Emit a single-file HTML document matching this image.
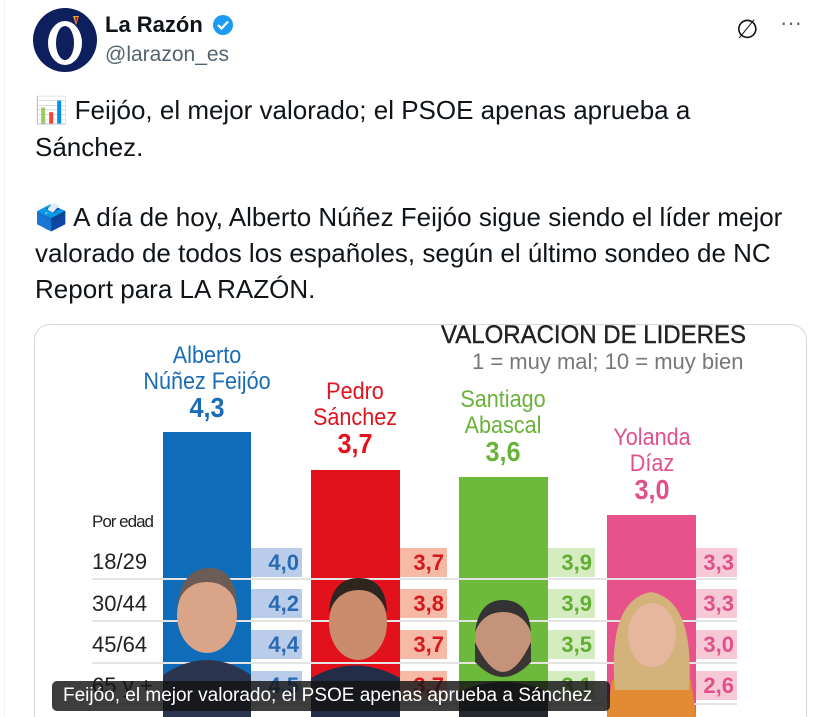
<!DOCTYPE html>
<html><head><meta charset="utf-8"><style>
*{margin:0;padding:0;box-sizing:border-box}
html,body{width:820px;height:717px;overflow:hidden}
body{background:#fff;font-family:"Liberation Sans",sans-serif;position:relative;color:#0f1419}
.a{position:absolute;white-space:nowrap}
.t{font-size:26px;line-height:36px;left:35px}
.c{position:absolute;text-align:center;font-family:"Liberation Sans",sans-serif;font-size:24px;line-height:26px;transform:scaleX(0.9)}
.sb{position:absolute;font-size:22px;font-weight:bold;text-align:right;padding-right:3px;line-height:29px;height:29px}
.row{position:absolute;left:92px;font-size:22px;color:#222}
.ln{position:absolute;left:92px;width:645px;height:2px;background:#e4e4e4}
</style></head><body>
<div class="a" style="left:4px;top:0;width:1px;height:717px;background:#eff3f4"></div>
<svg class="a" style="left:33px;top:8px" width="64" height="64"><circle cx="32" cy="32" r="32" fill="#0d1f5c"/><ellipse cx="32" cy="35" rx="17" ry="22" fill="#fff"/><ellipse cx="32" cy="35" rx="9" ry="17" fill="#0d1f5c"/><path d="M40 8 l6 0 -3 9z" fill="#e8b020"/><path d="M42 9 l3 0 -2 6z" fill="#c8102e"/></svg>
<div class="a" style="left:105px;top:12px;font-size:22px;font-weight:bold">La Razón</div>
<svg class="a" style="left:212px;top:14px" width="22" height="22"><circle cx="11" cy="11" r="10" fill="#1d9bf0"/><path d="M6 11 l3.5 3.5 6.5-7" stroke="#fff" stroke-width="2.2" fill="none"/></svg>
<div class="a" style="left:105px;top:43px;font-size:21px;color:#536471">@larazon_es</div>
<div class="a" style="left:736px;top:14px;font-size:26px;color:#0f1419">∅</div>
<div class="a" style="left:780px;top:10px;font-size:22px;color:#536471">···</div>
<div class="a t" style="top:92px">📊 Feijóo, el mejor valorado; el PSOE apenas aprueba a</div>
<div class="a t" style="top:129px">Sánchez.</div>
<div class="a t" style="top:199px">🗳️ A día de hoy, Alberto Núñez Feijóo sigue siendo el líder mejor</div>
<div class="a t" style="top:235px">valorado de todos los españoles, según el último sondeo de NC</div>
<div class="a t" style="top:271px">Report para LA RAZÓN.</div>
<div class="a" style="left:34px;top:324px;width:773px;height:393px;border:1px solid #cfd9de;border-bottom:none;border-radius:16px 16px 0 0;overflow:hidden">
<div style="position:absolute;left:-35px;top:-325px;width:820px;height:717px;overflow:hidden">
<div class="a" style="left:441px;top:321px;font-size:25px;color:#222;transform:scaleX(0.96);transform-origin:left;-webkit-text-stroke:0.4px #222">VALORACION DE LIDERES</div>
<div class="a" style="left:472px;top:349px;font-size:22px;color:#777">1 = muy mal; 10 = muy bien</div>
<div class="c" style="left:117px;width:180px;top:343px;color:#1a6db5">Alberto<br>Núñez Feijóo<br><b style="font-size:28px">4,3</b></div>
<div class="c" style="left:265px;width:180px;top:379px;color:#e0141e">Pedro<br>Sánchez<br><b style="font-size:28px">3,7</b></div>
<div class="c" style="left:413px;width:180px;top:387px;color:#6ab23a">Santiago<br>Abascal<br><b style="font-size:28px">3,6</b></div>
<div class="c" style="left:562px;width:180px;top:425px;color:#e0508a">Yolanda<br>Díaz<br><b style="font-size:28px">3,0</b></div>
<div class="a" style="left:163px;top:432px;width:88px;height:285px;background:#0e6cb8"></div>
<div class="a" style="left:311px;top:470px;width:89px;height:247px;background:#e3111c"></div>
<div class="a" style="left:459px;top:477px;width:89px;height:240px;background:#6db93c"></div>
<div class="a" style="left:607px;top:515px;width:89px;height:202px;background:#e8528a"></div>
<div class="row" style="top:512px;font-size:17px;letter-spacing:-1px">Por edad</div>
<div class="row" style="top:549px">18/29</div><div class="row" style="top:591px">30/44</div><div class="row" style="top:632px">45/64</div><div class="row" style="top:673px">65 y +</div>
<div class="ln" style="top:578px"></div><div class="ln" style="top:620px"></div><div class="ln" style="top:662px"></div><div class="ln" style="top:703px"></div>
<div class="sb" style="left:251px;top:548px;width:51px;background:#b9cdea;color:#2a6ab3">4,0</div>
<div class="sb" style="left:251px;top:589px;width:51px;background:#b9cdea;color:#2a6ab3">4,2</div>
<div class="sb" style="left:251px;top:630px;width:51px;background:#b9cdea;color:#2a6ab3">4,4</div>
<div class="sb" style="left:251px;top:671px;width:51px;background:#b9cdea;color:#2a6ab3">4,5</div>
<div class="sb" style="left:400px;top:548px;width:47px;background:#f6b9a5;color:#d8161e">3,7</div>
<div class="sb" style="left:400px;top:589px;width:47px;background:#f6b9a5;color:#d8161e">3,8</div>
<div class="sb" style="left:400px;top:630px;width:47px;background:#f6b9a5;color:#d8161e">3,7</div>
<div class="sb" style="left:400px;top:671px;width:47px;background:#f6b9a5;color:#d8161e">3,7</div>
<div class="sb" style="left:548px;top:548px;width:47px;background:#d4ecc0;color:#62ad33">3,9</div>
<div class="sb" style="left:548px;top:589px;width:47px;background:#d4ecc0;color:#62ad33">3,9</div>
<div class="sb" style="left:548px;top:630px;width:47px;background:#d4ecc0;color:#62ad33">3,5</div>
<div class="sb" style="left:548px;top:671px;width:47px;background:#d4ecc0;color:#62ad33">3,1</div>
<div class="sb" style="left:696px;top:548px;width:41px;background:#f7c8d6;color:#e0508a">3,3</div>
<div class="sb" style="left:696px;top:589px;width:41px;background:#f7c8d6;color:#e0508a">3,3</div>
<div class="sb" style="left:696px;top:630px;width:41px;background:#f7c8d6;color:#e0508a">3,0</div>
<div class="sb" style="left:696px;top:671px;width:41px;background:#f7c8d6;color:#e0508a">2,6</div>
<svg class="a" style="left:163px;top:560px" width="88" height="157"><path d="M0 157 L0 115 Q44 85 88 115 L88 157z" fill="#2b3550"/><ellipse cx="44" cy="55" rx="30" ry="38" fill="#d9a488"/><path d="M14 45 Q20 8 46 8 Q72 8 74 45 Q66 22 44 22 Q22 22 14 45z" fill="#6b5d55"/></svg>
<svg class="a" style="left:311px;top:568px" width="89" height="149"><path d="M0 149 L0 110 Q44 85 89 110 L89 149z" fill="#232d48"/><ellipse cx="47" cy="55" rx="29" ry="37" fill="#c98d6e"/><path d="M18 45 Q20 10 48 10 Q75 10 76 45 Q68 22 48 22 Q26 22 18 45z" fill="#2e2520"/></svg>
<svg class="a" style="left:459px;top:592px" width="89" height="125"><path d="M0 125 L0 100 Q44 80 89 100 L89 125z" fill="#26282e"/><ellipse cx="44" cy="48" rx="28" ry="36" fill="#c4937a"/><path d="M16 50 Q44 110 72 50 L72 70 Q44 100 16 70z" fill="#3a3634"/><path d="M16 40 Q20 8 44 8 Q70 8 72 40 Q64 20 44 20 Q24 20 16 40z" fill="#333"/></svg>
<svg class="a" style="left:607px;top:580px" width="89" height="137"><path d="M0 137 L5 100 Q44 85 84 100 L89 137z" fill="#e38b32"/><path d="M8 110 Q0 20 44 12 Q88 20 82 110z" fill="#d4b27c"/><ellipse cx="45" cy="55" rx="24" ry="32" fill="#e6b79c"/></svg>
<div class="a" style="left:52px;top:681px;width:558px;height:30px;background:rgba(20,20,20,0.82);border-radius:5px;color:#fff;font-size:19px;line-height:30px;padding-left:11px">Feijóo, el mejor valorado; el PSOE apenas aprueba a Sánchez</div>
</div></div>
</body></html>
